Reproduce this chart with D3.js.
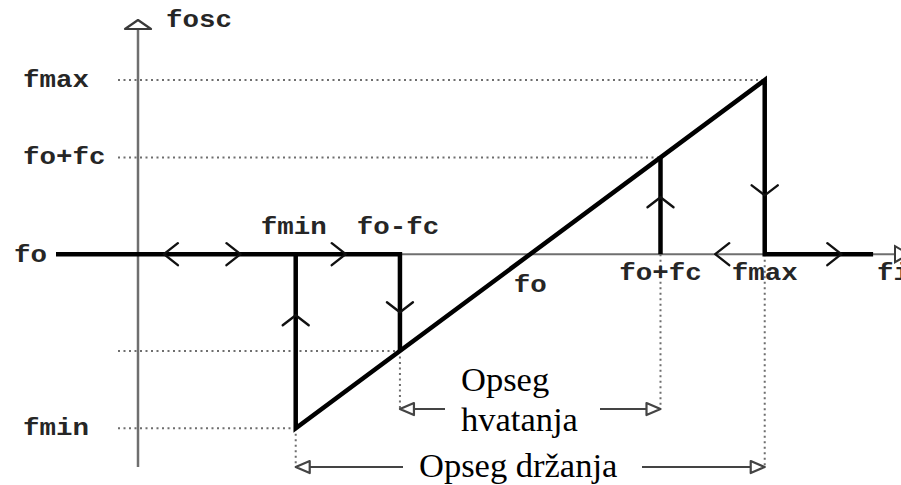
<!DOCTYPE html>
<html>
<head>
<meta charset="utf-8">
<script src="https://cdn.jsdelivr.net/npm/d3@7"></script>
<style>
  html, body { margin: 0; padding: 0; background: #fff; }
  svg { display: block; }
  .mono { font-family: "Liberation Mono", "Courier New", monospace; font-weight: bold; font-size: 23px; fill: #262626; }
  .serif { font-family: "Liberation Serif", "Times New Roman", serif; font-size: 34.5px; fill: #000; }
</style>
</head>
<body>
<svg id="chart" width="901" height="485"></svg>
<script>
// Input frequency fi (horizontal) and oscillator frequency fosc (vertical), in units relative to fo
const freqLabels = ["fmin", "fo-fc", "fo", "fo+fc", "fmax"];
const freqValues = [-4.5, -2.5, 0, 2.5, 4.5];
const oscLabels = ["fmax", "fo+fc", "fo", "fmin"];
const oscValues = [4.5, 2.5, 0, -4.5];

// Ends of the free-running (unlocked) branches
const fiStart = -9.1;
const fiEnd = 6.58;

// Sweep-direction chevrons on the fo line
const hArrowFi = [-7.03, -5.56, -3.54, 3.55, 5.97];
const hArrowDir = [-1, 1, 1, -1, 1];

// Chevrons on the lock / unlock jumps
const vArrowFi = [-4.5, -2.5, 2.5, 4.5];
const vArrowOsc = [-1.58, -1.5, 1.47, 1.52];
const vArrowDir = [1, -1, 1, -1];

// Range annotations
const rangeNames = ["Opseg hvatanja", "Opseg držanja"];
const rangeFrom = [-2.5, -4.5];
const rangeTo = [2.5, 4.5];

const svg = d3.select("#chart");
const x = d3.scaleLinear().domain([-9.1, 7]).range([56, 895]);
const y = d3.scaleLinear().domain([-5.5, 6]).range([467, 22]);
const line = d3.line().x(d => x(d[0])).y(d => y(d[1]));

const axisX = 138;           // pixel column of the fosc axis
const dotStart = 118;        // left end of the dotted level lines
const captureY = 409, holdY = 467;

const dotted = { stroke: "#6e6e6e", "stroke-width": 2, "stroke-dasharray": "2,3.5", fill: "none" };
function applyAttrs(sel, a) { Object.entries(a).forEach(([k, v]) => sel.attr(k, v)); return sel; }

// ---- dotted guide lines ----
const g = svg.append("g");
const levels = [[4.5, 4.5], [2.5, 2.5], [-2.5, -2.5], [-4.5, -4.5]];
levels.forEach(([fi, osc]) => {
  applyAttrs(g.append("line")
    .attr("x1", dotStart).attr("x2", x(fi))
    .attr("y1", y(osc)).attr("y2", y(osc)), dotted);
});
// vertical drops to the range arrows
[[-4.5, -4.5, holdY], [-2.5, -2.5, captureY], [2.5, 0, captureY], [4.5, 0, holdY]].forEach(([fi, osc, yb]) => {
  applyAttrs(g.append("line")
    .attr("x1", x(fi)).attr("x2", x(fi))
    .attr("y1", y(osc)).attr("y2", yb - 1), dotted);
});

// ---- axes ----
const axisColor = "#6f6f6f";
svg.append("line").attr("x1", axisX).attr("x2", axisX).attr("y1", 29).attr("y2", 467)
  .attr("stroke", axisColor).attr("stroke-width", 2.5);
svg.append("path").attr("d", `M${axisX - 13},29 L${axisX},20 L${axisX + 13},29 Z`)
  .attr("fill", "#fff").attr("stroke", "#3a3a3a").attr("stroke-width", 2.2).attr("stroke-linejoin", "round");

svg.append("line").attr("x1", x(fiStart)).attr("x2", x(7)).attr("y1", y(0)).attr("y2", y(0))
  .attr("stroke", axisColor).attr("stroke-width", 2);
svg.append("path").attr("d", `M${x(7)},${y(0) - 8} L${x(7) + 14},${y(0)} L${x(7)},${y(0) + 8} Z`)
  .attr("fill", "#fff").attr("stroke", "#3a3a3a").attr("stroke-width", 2);

// ---- thick response curve ----
const thick = { stroke: "#000", "stroke-width": 4.5, fill: "none", "stroke-linejoin": "miter", "stroke-linecap": "butt" };
const segments = [
  [[fiStart, 0], [-2.5, 0], [-2.5, -2.5]],
  [[-4.5, 0], [-4.5, -4.5], [4.5, 4.5], [4.5, 0], [fiEnd, 0]],
  [[2.5, 0], [2.5, 2.5]]
];
segments.forEach(s => applyAttrs(svg.append("path").attr("d", line(s)), thick));

// ---- chevrons ----
const chev = { stroke: "#111", "stroke-width": 2.4, fill: "none", "stroke-linecap": "round", "stroke-linejoin": "round" };
hArrowFi.forEach((fi, i) => {
  const tx = x(fi), ty = y(0), d = hArrowDir[i];
  applyAttrs(svg.append("path")
    .attr("d", `M${tx - d * 14},${ty - 11} L${tx},${ty} L${tx - d * 14},${ty + 11}`), chev);
});
vArrowFi.forEach((fi, i) => {
  const tx = x(fi), ty = y(vArrowOsc[i]), d = vArrowDir[i];
  applyAttrs(svg.append("path")
    .attr("d", `M${tx - 13},${ty + d * 10} L${tx},${ty} L${tx + 13},${ty + d * 10}`), chev);
});

// ---- labels ----
const charW = 16.5;
function mono(text, px, py, anchor) {
  svg.append("text").attr("class", "mono").attr("x", px).attr("y", py)
    .attr("text-anchor", anchor)
    .attr("textLength", text.length * charW).attr("lengthAdjust", "spacingAndGlyphs")
    .text(text);
}
mono("fosc", 166, 27, "start");
oscLabels.forEach((t, i) => {
  if (oscValues[i] === 0) mono(t, x(fiStart) - 9, y(0) + 8, "end");
  else mono(t, 23, y(oscValues[i]) + 7, "start");
});
freqLabels.forEach((t, i) => {
  const v = freqValues[i];
  if (v === 0) mono(t, x(v), 292, "middle");
  else if (v < 0) mono(t, x(v) - 2, 234, "middle");
  else mono(t, x(v), 280, "middle");
});
// horizontal-axis name, running off the right edge
mono("fi", 877, 280, "start");

// ---- range arrows ----
const rangeStroke = "#444";
function rangeArrow(fa, fb, yy, gapL, gapR) {
  const a = x(fa), b = x(fb);
  svg.append("line").attr("x1", a + 14).attr("x2", gapL).attr("y1", yy).attr("y2", yy)
    .attr("stroke", rangeStroke).attr("stroke-width", 2);
  svg.append("line").attr("x1", gapR).attr("x2", b - 14).attr("y1", yy).attr("y2", yy)
    .attr("stroke", rangeStroke).attr("stroke-width", 2);
  svg.append("path").attr("d", `M${a + 14},${yy - 6} L${a},${yy} L${a + 14},${yy + 6} Z`)
    .attr("fill", "#fff").attr("stroke", rangeStroke).attr("stroke-width", 2.2).attr("stroke-linejoin", "round");
  svg.append("path").attr("d", `M${b - 14},${yy - 6} L${b},${yy} L${b - 14},${yy + 6} Z`)
    .attr("fill", "#fff").attr("stroke", rangeStroke).attr("stroke-width", 2.2).attr("stroke-linejoin", "round");
}
rangeArrow(rangeFrom[0], rangeTo[0], captureY, 445, 600);
rangeArrow(rangeFrom[1], rangeTo[1], holdY, 403, 642);

const [capWord, capRest] = rangeNames[0].split(" ");
svg.append("text").attr("class", "serif").attr("x", 461).attr("y", 391).text(capWord);
svg.append("text").attr("class", "serif").attr("x", 461).attr("y", 431).text(capRest);
svg.append("text").attr("class", "serif").attr("x", 419).attr("y", 477).text(rangeNames[1]);
</script>
</body>
</html>
